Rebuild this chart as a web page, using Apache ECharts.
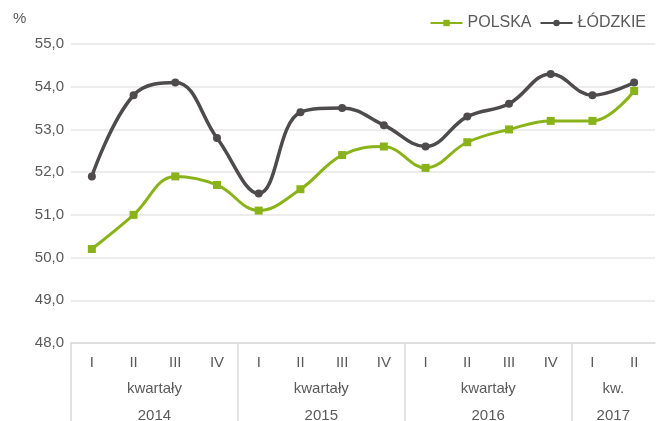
<!DOCTYPE html>
<html>
<head>
<meta charset="utf-8">
<script src="https://cdn.jsdelivr.net/npm/echarts@6/dist/echarts.min.js"></script>
<style>
  html, body { margin: 0; padding: 0; background: #fff; }
  #chart { width: 665px; height: 421px; }
</style>
</head>
<body>
<div id="chart"></div>
<script>
// quarters on the axis
var quarters = ['I', 'II', 'III', 'IV', 'I', 'II', 'III', 'IV', 'I', 'II', 'III', 'IV', 'I', 'II']
var polska = [50.2, 51.0, 51.9, 51.7, 51.1, 51.6, 52.4, 52.6, 52.1, 52.7, 53.0, 53.2, 53.2, 53.9]
var lodzkie = [51.9, 53.8, 54.1, 52.8, 51.5, 53.4, 53.5, 53.1, 52.6, 53.3, 53.6, 54.3, 53.8, 54.1]
// year groups under the quarters
var groupNames = ['kwartały', 'kwartały', 'kwartały', 'kw.']
var years = ['2014', '2015', '2016', '2017']
var groupSizes = [4, 4, 4, 2]

var edges = [], centers = [], acc = 0
groupSizes.forEach(function (n) {
  edges.push(acc)
  centers.push(acc + n / 2)
  acc += n
})

var txt = '#5a5a5a'
var font = 'Liberation Sans, Arial, sans-serif'

var chart = echarts.init(document.getElementById('chart'))
chart.setOption({
  animation: false,
  textStyle: { fontFamily: font },
  grid: { left: 71, right: 10, top: 44, bottom: 78, containLabel: false, outerBoundsMode: 'none' },
  legend: {
    right: 14,
    top: 10,
    itemWidth: 32,
    itemHeight: 8,
    itemGap: 8,
    textStyle: { color: txt, fontSize: 16, fontFamily: font },
    data: ['POLSKA', 'ŁÓDZKIE']
  },
  graphic: [{
    type: 'text',
    left: 13,
    top: 11,
    style: { text: '%', fill: txt, fontSize: 15, fontFamily: font }
  }],
  xAxis: [
    {
      type: 'category',
      data: quarters,
      boundaryGap: true,
      axisLine: { lineStyle: { color: '#d9d9d9', width: 1.5 } },
      axisTick: { show: false },
      axisLabel: { color: txt, fontSize: 15, margin: 12 }
    },
    {
      type: 'value',
      min: 0,
      max: acc,
      position: 'bottom',
      axisLine: { show: false },
      splitLine: { show: false },
      axisTick: {
        show: true,
        customValues: edges,
        length: 78,
        lineStyle: { color: '#d9d9d9', width: 1.5 }
      },
      axisLabel: {
        customValues: centers,
        color: txt,
        fontSize: 15,
        lineHeight: 27,
        margin: 32,
        formatter: function (v) {
          var i = centers.indexOf(v)
          return i < 0 ? '' : groupNames[i] + '\n' + years[i]
        }
      }
    }
  ],
  yAxis: {
    type: 'value',
    min: 48,
    max: 55,
    interval: 1,
    axisLine: { show: false },
    axisTick: { show: false },
    splitLine: { lineStyle: { color: '#e6e6e6', width: 1.5 } },
    axisLabel: {
      color: txt,
      fontSize: 15,
      margin: 7,
      formatter: function (v) { return v.toFixed(1).replace('.', ',') }
    }
  },
  series: [
    {
      name: 'POLSKA',
      type: 'line',
      xAxisIndex: 0,
      data: polska,
      smooth: 0.4,
      symbol: 'rect',
      symbolSize: 8,
      itemStyle: { color: '#8ab31a' },
      lineStyle: { color: '#8ab31a', width: 3 }
    },
    {
      name: 'ŁÓDZKIE',
      type: 'line',
      xAxisIndex: 0,
      data: lodzkie,
      smooth: 0.4,
      symbol: 'circle',
      symbolSize: 8,
      itemStyle: { color: '#4d4b4b' },
      lineStyle: { color: '#4d4b4b', width: 3.5 }
    }
  ]
})
</script>
</body>
</html>
